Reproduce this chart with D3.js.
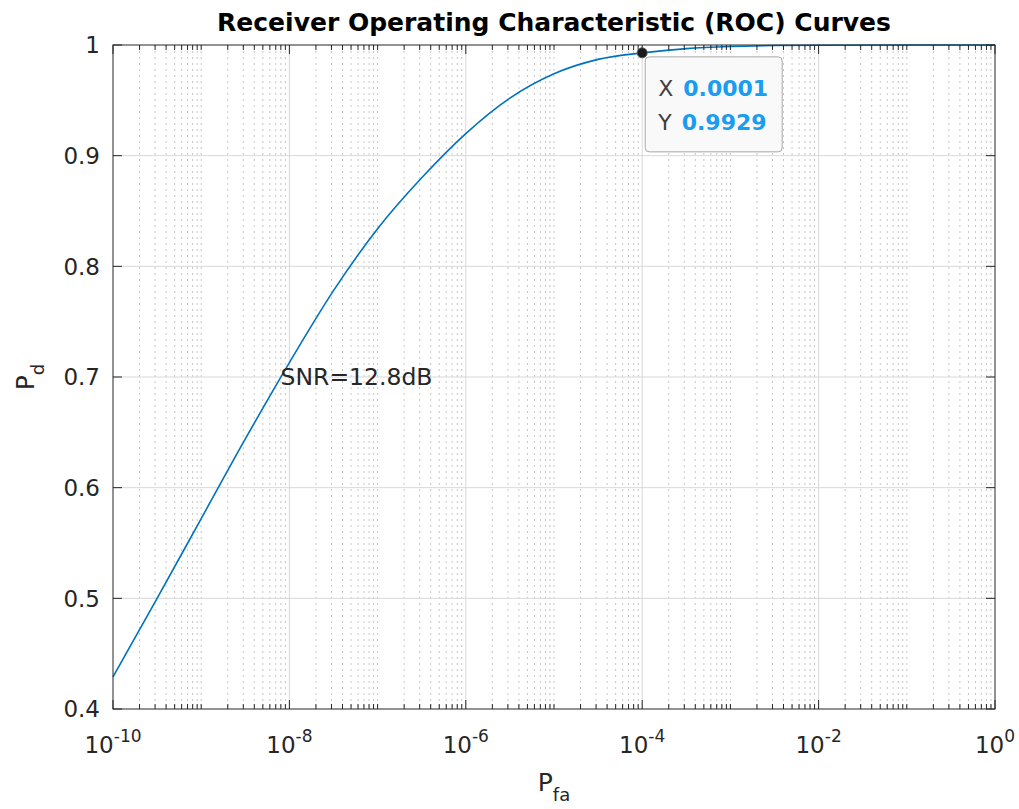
<!DOCTYPE html>
<html>
<head>
<meta charset="utf-8">
<script src="https://cdn.jsdelivr.net/npm/d3@7"></script>
<style>
    body { margin: 0; background: #fff; }
    text { font-family: "DejaVu Sans", sans-serif; fill: #262626; }
</style>
</head>
<body>
<svg id="RocChart"></svg>
<script>
// curve: log10(Pfa) and Pd
let logPfa = [-10, -9.5, -9, -8.5, -8, -7.5, -7, -6.5, -6, -5.5, -5, -4.5, -4, -3.5, -3, -2.5, -2, -1, 0];
let pd = [0.429, 0.500, 0.572, 0.644, 0.713, 0.778, 0.834, 0.880, 0.920, 0.952, 0.974, 0.987, 0.9929, 0.9967, 0.9986, 0.9995, 0.9998, 1.0, 1.0];
let yTicks = [0.4, 0.5, 0.6, 0.7, 0.8, 0.9, 1];
let xTickExp = [-10, -8, -6, -4, -2, 0];
let tipPoint = {x: 0.0001, y: 0.9929};
let tipLabels = ["0.0001", "0.9929"];
let curveName = "SNR=12.8dB";

let width = 1019, height = 809;
let config = {
    margin: {top: 45, bottom: 100, left: 113, right: 24}
};
config.bodyWidth = width - config.margin.left - config.margin.right;
config.bodyHeight = height - config.margin.top - config.margin.bottom;

let svg = d3.select("#RocChart")
    .attr("width", width)
    .attr("height", height);

let xScale = d3.scaleLog()
    .domain([1e-10, 1])
    .range([0, config.bodyWidth]);
let yScale = d3.scaleLinear()
    .domain([0.4, 1])
    .range([config.bodyHeight, 0]);

let body = svg.append("g")
    .attr("transform", `translate(${config.margin.left},${config.margin.top})`);

// minor positions: 2..9 of each decade, plus odd decades
let minorX = [];
for (let e = -10; e < 0; e++) {
    for (let m = 1; m <= 9; m++) {
        if (m === 1 && xTickExp.includes(e)) continue;
        minorX.push(m * Math.pow(10, e));
    }
}

// grids
body.selectAll(".minorGrid")
    .data(minorX)
    .enter()
    .append("line")
    .attr("x1", d => xScale(d)).attr("x2", d => xScale(d))
    .attr("y1", 0).attr("y2", config.bodyHeight)
    .attr("stroke", "#c6c6c6")
    .attr("stroke-dasharray", "2,4");
body.selectAll(".majorGridX")
    .data(xTickExp.slice(1, -1))
    .enter()
    .append("line")
    .attr("x1", d => xScale(Math.pow(10, d))).attr("x2", d => xScale(Math.pow(10, d)))
    .attr("y1", 0).attr("y2", config.bodyHeight)
    .attr("stroke", "#d8d8d8");
body.selectAll(".majorGridY")
    .data(yTicks.slice(1, -1))
    .enter()
    .append("line")
    .attr("x1", 0).attr("x2", config.bodyWidth)
    .attr("y1", d => yScale(d)).attr("y2", d => yScale(d))
    .attr("stroke", "#d8d8d8");

// curve
let line = d3.line()
    .x((d, i) => xScale(Math.pow(10, logPfa[i])))
    .y(d => yScale(d))
    .curve(d3.curveMonotoneX);
body.append("path")
    .datum(pd)
    .attr("d", line)
    .attr("fill", "none")
    .attr("stroke", "#0072BD")
    .attr("stroke-width", 1.6);

// box and ticks (inward, all four sides)
let axisColor = "#262626";
body.append("rect")
    .attr("width", config.bodyWidth)
    .attr("height", config.bodyHeight)
    .attr("fill", "none")
    .attr("stroke", axisColor);

[0, config.bodyHeight].forEach(yy => {
    let dir = yy === 0 ? 1 : -1;
    body.selectAll(null)
        .data(minorX)
        .enter()
        .append("line")
        .attr("x1", d => xScale(d)).attr("x2", d => xScale(d))
        .attr("y1", yy).attr("y2", yy + dir * 5)
        .attr("stroke", axisColor);
    body.selectAll(null)
        .data(xTickExp)
        .enter()
        .append("line")
        .attr("x1", d => xScale(Math.pow(10, d))).attr("x2", d => xScale(Math.pow(10, d)))
        .attr("y1", yy).attr("y2", yy + dir * 9)
        .attr("stroke", axisColor);
});
[0, config.bodyWidth].forEach(xx => {
    let dir = xx === 0 ? 1 : -1;
    body.selectAll(null)
        .data(yTicks)
        .enter()
        .append("line")
        .attr("x1", xx).attr("x2", xx + dir * 9)
        .attr("y1", d => yScale(d)).attr("y2", d => yScale(d))
        .attr("stroke", axisColor);
});

// tick labels
body.selectAll(".yLabel")
    .data(yTicks)
    .enter()
    .append("text")
    .attr("x", -13)
    .attr("y", d => yScale(d))
    .attr("dy", "0.36em")
    .attr("text-anchor", "end")
    .style("font-size", "23px")
    .text(d => d3.format("")(d));

let xl = body.selectAll(".xLabel")
    .data(xTickExp)
    .enter()
    .append("text")
    .attr("x", d => xScale(Math.pow(10, d)))
    .attr("y", config.bodyHeight + 44)
    .attr("text-anchor", "middle");
xl.append("tspan").style("font-size", "23px").text("10");
xl.append("tspan").style("font-size", "17px").attr("dy", -11).text(d => d === 0 ? "0" : "-" + Math.abs(d));

// title and axis labels
svg.append("text")
    .attr("x", config.margin.left + config.bodyWidth / 2)
    .attr("y", 31)
    .attr("text-anchor", "middle")
    .style("font-size", "25px")
    .style("font-weight", "bold")
    .style("fill", "#000")
    .text("Receiver Operating Characteristic (ROC) Curves");

let xt = svg.append("text")
    .attr("x", config.margin.left + config.bodyWidth / 2)
    .attr("y", 791)
    .attr("text-anchor", "middle");
xt.append("tspan").style("font-size", "25px").text("P");
xt.append("tspan").style("font-size", "18px").attr("dy", 10).text("fa");

let yt = svg.append("text")
    .attr("transform", `translate(34,${config.margin.top + config.bodyHeight / 2}) rotate(-90)`)
    .attr("text-anchor", "middle");
yt.append("tspan").style("font-size", "25px").text("P");
yt.append("tspan").style("font-size", "18px").attr("dy", 10).text("d");

// curve annotation
body.append("text")
    .attr("x", xScale(Math.pow(10, -8.1)))
    .attr("y", yScale(0.7))
    .attr("dy", "0.36em")
    .style("font-size", "23.5px")
    .text(curveName);

// data tip
let tx = xScale(tipPoint.x), ty = yScale(tipPoint.y);
let tip = body.append("g")
    .attr("transform", `translate(${tx + 3},${ty + 4})`);
tip.append("rect")
    .attr("width", 137)
    .attr("height", 95)
    .attr("rx", 4)
    .attr("fill", "#f9f9f9")
    .attr("fill-opacity", 0.97)
    .attr("stroke", "#a8a8a8");
["X", "Y"].forEach((k, i) => {
    let t = tip.append("text")
        .attr("x", 13)
        .attr("y", 39 + i * 34)
        .style("font-size", "22px");
    t.append("tspan").style("fill", "#404040").text(k);
    t.append("tspan").attr("dx", 10).style("fill", "#1a9cf0").style("font-weight", "bold").text(tipLabels[i]);
});
body.append("circle")
    .attr("cx", tx)
    .attr("cy", ty)
    .attr("r", 5)
    .attr("fill", "#1a1a1a")
    .attr("stroke", "#555");
</script>
</body>
</html>
